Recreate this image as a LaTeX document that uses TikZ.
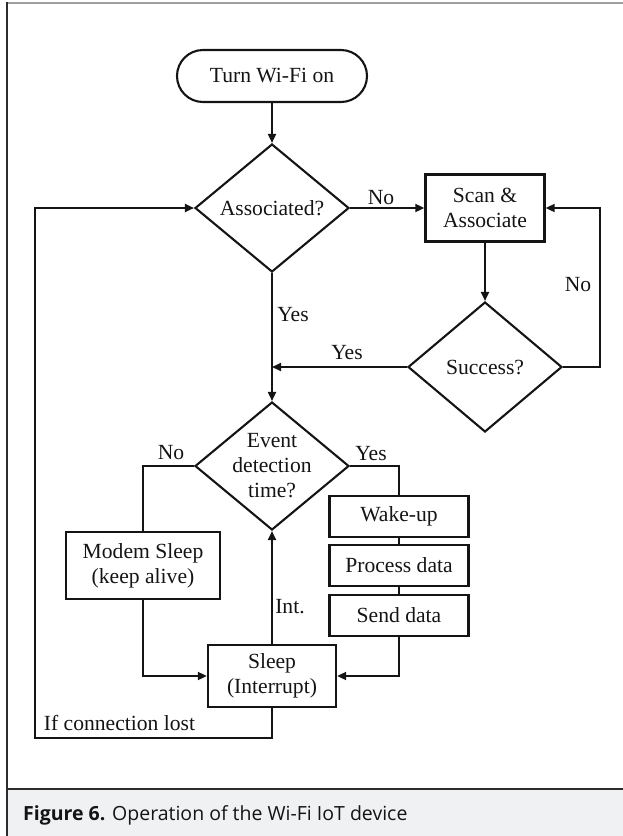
\documentclass[tikz,border=0pt]{standalone}
\usepackage{fontspec}
\setmainfont{Liberation Serif}
\newfontfamily\capfont{Open Sans}
\usetikzlibrary{shapes.geometric,arrows.meta,calc}
\definecolor{capbg}{HTML}{F0F1F3}
\definecolor{ink}{HTML}{141414}
\begin{document}
\begin{tikzpicture}[x=1pt,y=-1pt,
  every node/.style={font=\fontsize{21.6}{25}\selectfont, text=ink},
  box/.style={draw=ink, line width=2.3pt, rectangle, inner sep=0pt, align=center},
  dia/.style={draw=ink, line width=2.1pt, diamond, inner sep=0pt, minimum width=154pt, minimum height=128pt},
  term/.style={draw=ink, line width=2.1pt, rectangle, rounded corners=26pt, inner sep=0pt, minimum width=190pt, minimum height=52pt},
  conn/.style={draw=ink, line width=1.8pt},
  arr/.style={conn, -{Triangle[length=9pt,width=8pt]}},
  lbl/.style={inner sep=0pt}
]
\useasboundingbox (0,0) rectangle (623,836);
% frame and caption band
\fill[capbg] (7,789) rectangle (623,836);
\draw[line width=1.6pt, draw=gray!75] (7,2.7) -- (623,2.7);
\draw[line width=1.6pt, draw=ink!90] (7,2) -- (7,836);
\draw[line width=1.6pt, draw=ink!90] (7,789) -- (623,789);
\node[anchor=west, inner sep=0pt, font=\capfont\fontsize{19.5}{22}\selectfont] (cap) at (23,815) {\textbf{Figure 6.} Operation of the Wi-Fi IoT device};

% nodes
\node[term] (turn) at (272,76) {Turn Wi-Fi on};
\node[dia, label={[lbl]center:Associated?}] (assoc) at (272,208) {};
\node[box, minimum width=119pt, minimum height=67pt] (scan) at (485,208) {Scan \&\\Associate};
\node[dia, minimum height=130pt, label={[lbl]center:Success?}] (succ) at (485,367) {};
\node[dia, label={[lbl,align=center]center:{Event\\detection\\time?}}] (event) at (272,466) {};
\node[box, minimum width=154pt, minimum height=67pt] (modem) at (143,565.5) {Modem Sleep\\(keep alive)};
\node[box, minimum width=128pt, minimum height=62pt] (sleep) at (272,676) {Sleep\\(Interrupt)};
\node[box, minimum width=139pt, minimum height=41pt] (wake) at (399,516.5) {Wake-up};
\node[box, minimum width=139pt, minimum height=41pt] (proc) at (399,565.5) {Process data};
\node[box, minimum width=139pt, minimum height=41pt] (send) at (399,615.5) {Send data};

\coordinate (rloop) at (600,367);
\coordinate (join) at (272,367);
\coordinate (bl) at (35,738);

% connectors
\draw[arr] (turn.south) -- (assoc.north);
\draw[arr] (assoc.east) -- (scan.west);
\draw[arr] (scan.south) -- (succ.north);
\draw[arr] (succ.east) -- (rloop) |- (scan.east);
\draw[arr] (succ.west) -- (join);
\draw[arr] (assoc.south) -- (event.north);
\draw[conn] (event.west) -| (modem.north);
\draw[arr] (modem.south) |- (sleep.west);
\draw[conn] (event.east) -| (wake.north);
\draw[conn] (wake.south) -- (proc.north);
\draw[conn] (proc.south) -- (send.north);
\draw[arr] (send.south) |- (sleep.east);
\draw[arr] (sleep.north) -- (event.south);
\draw[arr] (sleep.south) |- (bl) |- (assoc.west);

% labels
\node[lbl] (lno1) at (381,198) {No};
\node[lbl] (lno2) at (578,285) {No};
\node[lbl] (lyes1) at (293,315) {Yes};
\node[lbl] (lyes2) at (347,353) {Yes};
\node[lbl] (lno3) at (171,453) {No};
\node[lbl] (lyes3) at (371,454) {Yes};
\node[lbl] (lint) at (290,607) {Int.};
\node[lbl] (llost) at (119.5,723) {If connection lost};
\end{tikzpicture}
\end{document}
